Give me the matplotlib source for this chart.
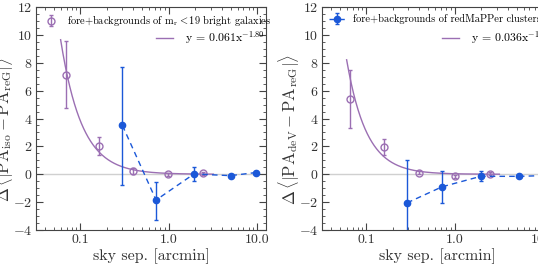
import numpy as np
import matplotlib
matplotlib.use("Agg")
import matplotlib.pyplot as plt
from matplotlib.ticker import FixedLocator, FixedFormatter, MultipleLocator, LogLocator, NullFormatter

plt.rcParams['font.family'] = 'serif'
plt.rcParams['font.serif'] = ['cmr10', 'DejaVu Serif']
plt.rcParams['mathtext.fontset'] = 'cm'
plt.rcParams['axes.formatter.use_mathtext'] = True
plt.rcParams['axes.unicode_minus'] = True

PURPLE = '#9b6fb3'
BLUE = '#1b58d8'

# left panel: PA_iso
iso_gal_x = [0.069, 0.163, 0.39, 0.99, 2.45]
iso_gal_y = [7.15, 2.0, 0.25, 0.0, 0.08]
iso_gal_lo = [2.40, 0.62, 0.22, 0.10, 0.10]
iso_gal_hi = [2.40, 0.65, 0.22, 0.10, 0.10]

iso_clu_x = [0.30, 0.72, 1.93, 5.0, 9.6]
iso_clu_y = [3.5, -1.85, 0.02, -0.1, 0.12]
iso_clu_lo = [4.25, 1.40, 0.50, 0.08, 0.08]
iso_clu_hi = [4.20, 1.30, 0.48, 0.08, 0.08]

iso_fit_a, iso_fit_b = 0.061, -1.80

# right panel: PA_deV
dev_gal_x = [0.065, 0.16, 0.39, 1.0, 2.5]
dev_gal_y = [5.4, 1.95, 0.12, -0.15, 0.05]
dev_gal_lo = [2.10, 0.60, 0.12, 0.10, 0.10]
dev_gal_hi = [2.05, 0.55, 0.12, 0.10, 0.10]

dev_clu_x = [0.29, 0.72, 1.97, 5.4, 9.8]
dev_clu_y = [-2.05, -0.9, -0.15, -0.15, -0.1]
dev_clu_lo = [2.2, 1.15, 0.30, 0.06, 0.06]
dev_clu_hi = [3.05, 1.15, 0.40, 0.06, 0.06]

dev_fit_a, dev_fit_b = 0.036, -1.93

xticks = [0.1, 1.0, 10.0]
xticklabels = ['0.1', '1.0', '10.0']

fig = plt.figure(figsize=(5.38, 2.67), dpi=100)
ax1 = fig.add_axes([36 / 538, 37 / 267, 230 / 538, 223 / 267])
ax2 = fig.add_axes([322 / 538, 37 / 267, 230 / 538, 223 / 267])


def draw(ax, gx, gy, glo, ghi, cx, cy, clo, chi, a, b, pa, gal_leg):
    ax.axhline(0, color='#d0d0d0', lw=1, zorder=0)
    xf = np.logspace(np.log10(0.06), np.log10(3.2), 200)
    fit, = ax.plot(xf, a * xf ** b, color=PURPLE, lw=1)
    eg = ax.errorbar(gx, gy, yerr=[glo, ghi], fmt='o', mfc='none', mec=PURPLE,
                     mew=1, ms=5, color=PURPLE, ecolor=PURPLE, elinewidth=1,
                     capsize=1.5, zorder=3)
    ec = ax.errorbar(cx, cy, yerr=[clo, chi], fmt='o', ls='--', ms=4.5,
                     color=BLUE, ecolor=BLUE, elinewidth=1, lw=1, capsize=1.5,
                     dashes=(4, 3), zorder=4)
    ax.set_xscale('log')
    ax.set_xlim(0.0316, 12.6)
    ax.set_ylim(-4, 12)
    ax.xaxis.set_major_locator(FixedLocator(xticks))
    ax.xaxis.set_major_formatter(FixedFormatter(xticklabels))
    ax.xaxis.set_minor_locator(LogLocator(base=10, subs=np.arange(2, 10), numticks=20))
    ax.xaxis.set_minor_formatter(NullFormatter())
    ax.yaxis.set_major_locator(MultipleLocator(2))
    ax.yaxis.set_minor_locator(MultipleLocator(0.5))
    ax.tick_params(which='both', direction='in', top=True, right=True,
                   labelsize=10, color='#444444', labelcolor='#333333', pad=2.5)
    ax.tick_params(which='major', length=5)
    ax.tick_params(which='minor', length=2.5)
    for s in ax.spines.values():
        s.set_color('#444444')
    ax.set_xlabel('sky sep. [arcmin]', fontsize=11.5, labelpad=2, color='#333333')
    ax.set_ylabel(r'$\Delta\,\langle|\mathrm{PA}_{\mathrm{%s}} - \mathrm{PA}_{\mathrm{reG}}|\rangle$' % pa,
                  fontsize=12, color='#333333', va='center')
    ax.yaxis.set_label_coords(-0.14, 0.45)
    if gal_leg:
        h, lab = eg, r'fore+backgrounds of $\mathrm{m_r} < 19$ bright galaxies'
    else:
        h, lab = ec, 'fore+backgrounds of redMaPPer clusters'
    leg1 = ax.legend([h], [lab], loc='upper left', frameon=False, fontsize=7.5,
                     handlelength=1.5, borderaxespad=0.3, bbox_to_anchor=(0.0, 1.0))
    ax.add_artist(leg1)
    ax.legend([fit], [r'y = %.3fx$^{%.2f}$' % (a, b)], loc='upper left',
              frameon=False, fontsize=8.5, handlelength=1.5, handletextpad=1.0,
              bbox_to_anchor=(0.5, 0.92), borderaxespad=0)


draw(ax1, iso_gal_x, iso_gal_y, iso_gal_lo, iso_gal_hi,
     iso_clu_x, iso_clu_y, iso_clu_lo, iso_clu_hi, iso_fit_a, iso_fit_b, 'iso', True)
draw(ax2, dev_gal_x, dev_gal_y, dev_gal_lo, dev_gal_hi,
     dev_clu_x, dev_clu_y, dev_clu_lo, dev_clu_hi, dev_fit_a, dev_fit_b, 'deV', False)

fig.savefig('out.png', dpi=100)
